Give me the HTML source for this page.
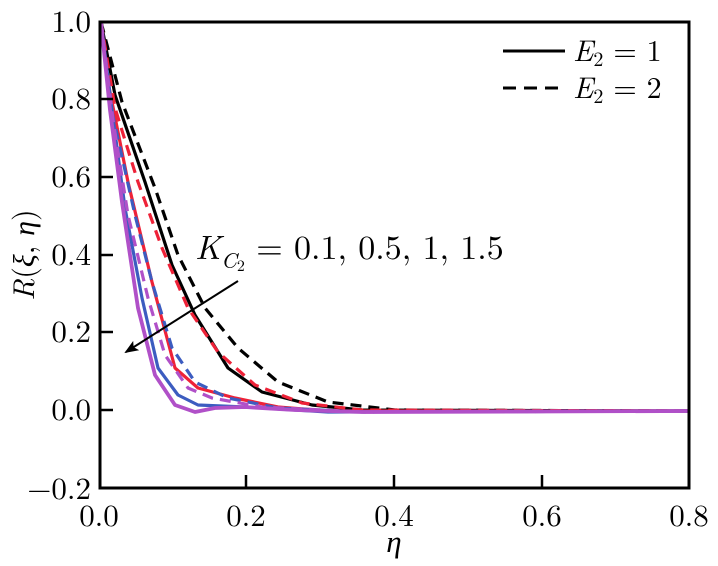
<!DOCTYPE html>
<html><head><meta charset="utf-8"><style>
body{margin:0;background:#fff}
svg{display:block}
text{font-family:"Latin Modern Roman","Liberation Serif",serif;fill:#000}
</style></head><body>
<svg width="718" height="566" xmlns="http://www.w3.org/2000/svg">
<defs><marker id="ah" markerWidth="14" markerHeight="11" refX="12" refY="5.5" orient="auto" markerUnits="userSpaceOnUse"><path d="M0,0 L14,5.5 L0,11 L3,5.5z" fill="#000"/></marker></defs>
<g fill="none" stroke-width="3.2" stroke-linejoin="round">
<path stroke="#000" stroke-dasharray="11,7" d="M101,22 L122,102 L155,188 L178,255 L205,308 L238,348 L278,382 L328,402 L395,410 L689,411"/>
<path stroke="#000" d="M101,22 L115,95 L145,182 L172,265 L195,315 L228,368 L262,392 L312,405 L362,410 L689,411"/>
<path stroke="#ee2238" stroke-dasharray="11,7" d="M101,22 L115,108 L138,182 L162,248 L188,308 L218,352 L255,385 L302,403 L362,410 L689,411"/>
<path stroke="#ee2238" d="M101,22 L108,82 L128,182 L152,282 L175,368 L198,388 L235,398 L278,407 L328,411 L689,411"/>
<path stroke="#3c5cc0" stroke-dasharray="11,7" d="M101,22 L112,112 L135,215 L152,282 L172,348 L195,382 L228,398 L278,408 L362,412 L689,411"/>
<path stroke="#3c5cc0" d="M101,22 L112,110 L125,208 L142,298 L158,368 L178,395 L198,405 L245,407 L328,412 L689,411"/>
<path stroke="#b050c8" stroke-dasharray="11,7" d="M101,22 L113,120 L128,215 L148,298 L165,355 L188,388 L212,398 L262,407 L362,412 L689,411"/>
<path stroke="#b050c8" stroke-width="3.8" d="M101,22 L110,110 L122,202 L138,308 L155,375 L175,405 L195,412 L215,408 L245,407 L295,410 L362,412 L689,411"/>
</g>
<rect x="100" y="22" width="589" height="466" fill="none" stroke="#000" stroke-width="3"/>
<g stroke="#000" stroke-width="2.5">
<line x1="100" y1="99" x2="113" y2="99"/><line x1="100" y1="177" x2="113" y2="177"/><line x1="100" y1="255" x2="113" y2="255"/><line x1="100" y1="332" x2="113" y2="332"/><line x1="100" y1="410" x2="113" y2="410"/>
<line x1="246" y1="488" x2="246" y2="475"/><line x1="394" y1="488" x2="394" y2="475"/><line x1="542" y1="488" x2="542" y2="475"/>
</g>
<g font-size="31" text-anchor="end">
<text x="91" y="32">1.0</text><text x="91" y="109">0.8</text><text x="91" y="187">0.6</text><text x="91" y="265">0.4</text><text x="91" y="342">0.2</text><text x="91" y="420">0.0</text><text x="91" y="499">−0.2</text>
</g>
<g font-size="31" text-anchor="middle">
<text x="99" y="526">0.0</text><text x="246" y="526">0.2</text><text x="394" y="526">0.4</text><text x="542" y="526">0.6</text><text x="689" y="526">0.8</text>
<text x="394" y="552" font-style="italic">η</text>
</g>
<text transform="translate(34,255) rotate(-90)" font-size="30" text-anchor="middle"><tspan font-style="italic">R</tspan>(<tspan font-style="italic">ξ</tspan>, <tspan font-style="italic">η</tspan>)</text>
<line x1="503" y1="51" x2="565" y2="51" stroke="#000" stroke-width="3"/>
<line x1="503" y1="88" x2="565" y2="88" stroke="#000" stroke-width="3" stroke-dasharray="13,8"/>
<text x="573" y="61" font-size="30"><tspan font-style="italic">E</tspan><tspan font-size="20" dy="5">2</tspan><tspan dy="-5"> = 1</tspan></text>
<text x="573" y="98" font-size="30"><tspan font-style="italic">E</tspan><tspan font-size="20" dy="5">2</tspan><tspan dy="-5"> = 2</tspan></text>
<text x="195" y="259" font-size="34"><tspan font-style="italic">K</tspan><tspan font-size="22" font-style="italic" dy="9">C</tspan><tspan font-size="16" dy="3">2</tspan><tspan dy="-12"> = 0.1, 0.5, 1, 1.5</tspan></text>
<line x1="238" y1="281" x2="126" y2="352" stroke="#000" stroke-width="2" marker-end="url(#ah)"/>
</svg>
</body></html>
